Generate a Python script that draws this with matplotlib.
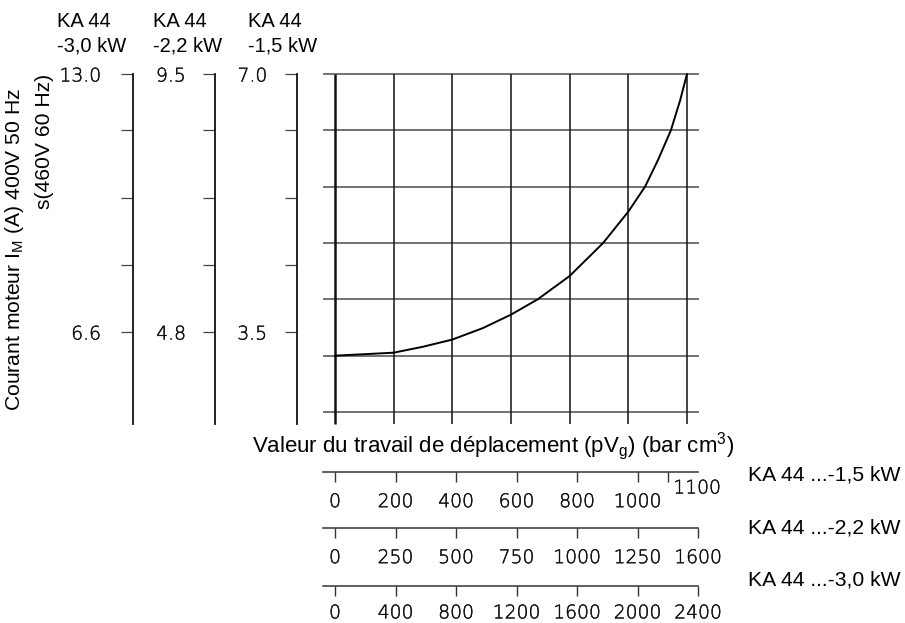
import matplotlib
matplotlib.use("Agg")
import matplotlib.pyplot as plt
import matplotlib.patheffects as pe
import numpy as np

# ---------------- data ----------------
# curve: pVg (bar cm3, KA 44 ...-1,5 kW scale) vs motor current (A, 1,5 kW scale)
curve_pvg = [0, 200, 300, 400, 505, 600, 691, 800, 914, 1000, 1057, 1101, 1145, 1176, 1200]
curve_current = [3.5, 3.537, 3.611, 3.70, 3.844, 4.01, 4.2, 4.49, 4.9, 5.29, 5.6, 5.93,
                 6.3, 6.665, 7.0]

# grid of the main diagram
grid_pvg = [0, 200, 400, 600, 800, 1000, 1200]
grid_current = [2.8, 3.5, 4.2, 4.9, 5.6, 6.3, 7.0]

# left current scales
left_headers = ["KA 44\n-3,0 kW", "KA 44\n-2,2 kW", "KA 44\n-1,5 kW"]
left_top = [13.0, 9.5, 7.0]
left_low = [6.6, 4.8, 3.5]
left_top_labels = ["13.0", "9.5", "7.0"]
left_low_labels = ["6.6", "4.8", "3.5"]

# bottom pVg scales
scale_names = ["KA 44 ...-1,5 kW", "KA 44 ...-2,2 kW", "KA 44 ...-3,0 kW"]
pvg_15 = [0, 200, 400, 600, 800, 1000, 1100]
pvg_22 = [0, 250, 500, 750, 1000, 1250, 1600]
pvg_30 = [0, 400, 800, 1200, 1600, 2000, 2400]

ylabel_1 = "Courant moteur I$_\\mathregular{M}$ (A) 400V 50 Hz"
ylabel_2 = "s(460V 60 Hz)"
xlabel = "Valeur du travail de déplacement (pV$_\\mathregular{g}$) (bar cm$^\\mathregular{3}$)"

# ---------------- layout helpers ----------------
W, H = 905, 623
fig = plt.figure(figsize=(W / 100, H / 100), dpi=100)

def rect(x0, y0, x1, y1):
    return [x0 / W, 1 - y1 / H, (x1 - x0) / W, (y1 - y0) / H]

def fx(x):
    return x / W

def fy(y):
    return 1 - y / H

SANS = ["Liberation Sans", "DejaVu Sans"]
DIG_FAMILY = ["DejaVu Sans"]
DIG_WEIGHT = "light"
DIG_FX = [pe.withStroke(linewidth=0.3, foreground="#111111")]
HEAD_SIZE = 14.5
TXT_SIZE = 15.2
XLAB_SIZE = 16.0
DIG_SIZE = 13.5

def style_digits(texts):
    for t in texts:
        t.set_family(DIG_FAMILY)
        t.set_fontweight(DIG_WEIGHT)
        t.set_path_effects(DIG_FX)

# ---------------- main grid ----------------
ax = fig.add_axes(rect(323, 74, 699, 424))
px_per_x = (687 - 335) / 1200.0
px_per_y = 56.33 / 0.7
xl = (-(335 - 323) / px_per_x, 1200 + (699 - 687) / px_per_x)
yl = (2.8 - (424 - 412) / px_per_y, 7.0)
ax.set_xlim(*xl)
ax.set_ylim(*yl)
for s in ax.spines.values():
    s.set_visible(False)
ax.set_xticks([])
ax.set_yticks([])
ax.patch.set_alpha(0)

ax.hlines(grid_current, xl[0], xl[1], color="#4a4a4a", lw=1.1, clip_on=False)
ax.vlines(grid_pvg[1:], yl[0], yl[1], color="#1a1a1a", lw=1.15, clip_on=False)
ax.vlines(grid_pvg[:1], yl[0], yl[1], color="#111111", lw=1.8, clip_on=False)
ax.plot(curve_pvg, curve_current, color="black", lw=1.4, clip_on=False,
        solid_capstyle="round", solid_joinstyle="round")

# ---------------- left scales ----------------
left_x = [133, 215, 297]
header_x = [57, 153, 248]
y_top_px, y_low_px, y_bot_px = 74, 332, 424
mid_ticks_px = [130, 198, 265]
label_pads = [14.0, 12.0, 12.5]
for i in range(3):
    a = fig.add_axes(rect(left_x[i], y_top_px, left_x[i] + 1, y_bot_px))
    per_px = (left_top[i] - left_low[i]) / (y_low_px - y_top_px)
    bot = left_low[i] - (y_bot_px - y_low_px) * per_px
    a.set_ylim(bot, left_top[i])
    mids = [left_top[i] - (p - y_top_px) * per_px for p in mid_ticks_px]
    a.set_yticks([left_top[i]] + mids + [left_low[i]])
    a.set_yticklabels([left_top_labels[i], "", "", "", left_low_labels[i]])
    a.set_xticks([])
    for k in ["right", "top", "bottom"]:
        a.spines[k].set_visible(False)
    a.spines["left"].set_linewidth(1.3)
    a.spines["left"].set_color("#111111")
    a.tick_params(axis="y", direction="out", length=9, width=0.9, color="#444444",
                  pad=label_pads[i], labelsize=DIG_SIZE, labelcolor="#111111")
    style_digits(a.get_yticklabels())
    a.patch.set_alpha(0)
    l1, l2 = left_headers[i].split("\n")
    fig.text(fx(header_x[i]), fy(27), l1, family=SANS, fontsize=HEAD_SIZE, va="baseline", ha="left")
    fig.text(fx(header_x[i]), fy(52), l2, family=SANS, fontsize=HEAD_SIZE, va="baseline", ha="left")

# y label (two rotated lines)
fig.text(fx(15), fy(88), ylabel_1, rotation=90, family=SANS, fontsize=TXT_SIZE,
         ha="center", va="top")
fig.text(fx(44), fy(74), ylabel_2, rotation=90, family=SANS, fontsize=TXT_SIZE,
         ha="center", va="top")

# x label
fig.text(fx(493), fy(446), xlabel, family=SANS, fontsize=XLAB_SIZE, ha="center", va="center")

# ---------------- bottom scales ----------------
rows_y = [472, 528, 586]
name_y = [475, 528, 580]
row_pads = [7.0, 7.0, 5.0]
scales = [pvg_15, pvg_22, pvg_30]
positions = [[v / 200.0 for v in pvg_15],
             list(range(len(pvg_22))),
             [v / 400.0 for v in pvg_30]]
for r in range(3):
    b = fig.add_axes(rect(323, rows_y[r] - 1, 698, rows_y[r]))
    b.set_xlim(-(335 - 323) / 60.5, 6.0)
    b.set_yticks([])
    for k in ["left", "right", "top"]:
        b.spines[k].set_visible(False)
    b.spines["bottom"].set_color("#333333")
    b.spines["bottom"].set_linewidth(1.1)
    b.patch.set_alpha(0)
    b.set_xticks(positions[r])
    labs = [str(v) for v in scales[r]]
    if r == 0:
        labs[-1] = ""
    b.set_xticklabels(labs)
    b.tick_params(axis="x", direction="out", length=7.5, width=1.0, color="#333333",
                  pad=row_pads[r], labelsize=DIG_SIZE, labelcolor="#111111")
    style_digits(b.get_xticklabels())
    fig.text(fx(748), fy(name_y[r]), scale_names[r], family=SANS, fontsize=TXT_SIZE,
             ha="left", va="center")

# "1100" label raised next to its tick
fig.text(fx(697), fy(488), str(pvg_15[-1]), family=DIG_FAMILY, fontweight=DIG_WEIGHT,
         fontsize=DIG_SIZE, color="#111111", ha="center", va="center", path_effects=DIG_FX)

fig.savefig("out.png", dpi=100)
